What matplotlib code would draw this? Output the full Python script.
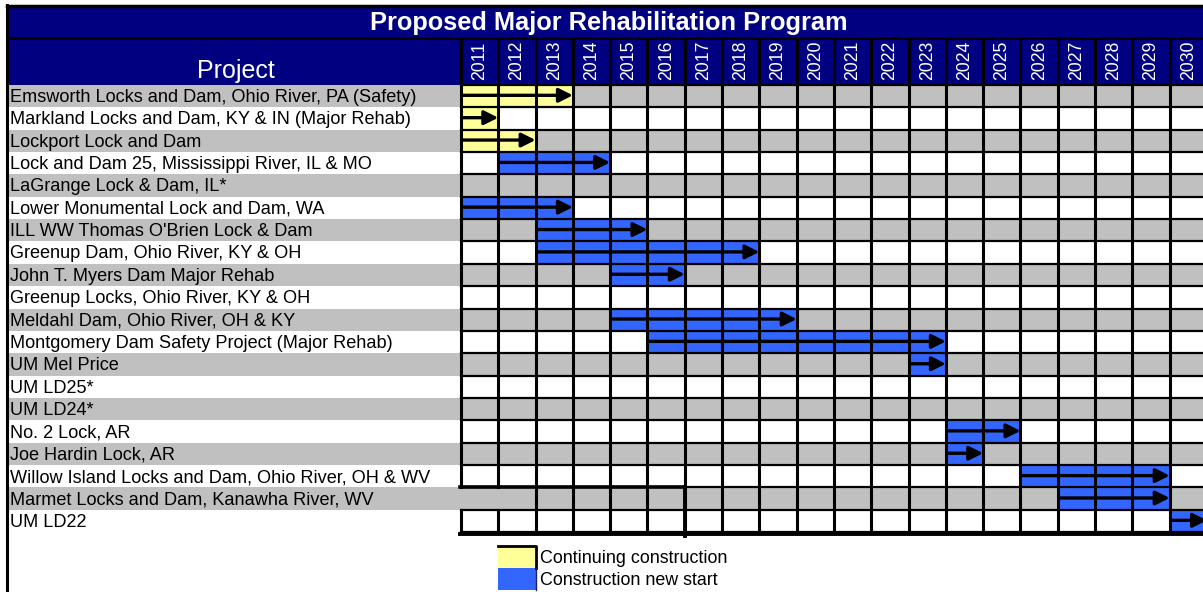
import matplotlib
matplotlib.use("Agg")
import matplotlib.pyplot as plt
from matplotlib.patches import Rectangle

plt.rcParams['font.family'] = ['Liberation Sans', 'DejaVu Sans']

# data
title = "Proposed Major Rehabilitation Program"
years = list(range(2011, 2031))
projects = [
    "Emsworth Locks and Dam, Ohio River, PA (Safety)",
    "Markland Locks and Dam, KY & IN (Major Rehab)",
    "Lockport Lock and Dam",
    "Lock and Dam 25, Mississippi River, IL & MO",
    "LaGrange Lock & Dam, IL*",
    "Lower Monumental Lock and Dam, WA",
    "ILL WW Thomas O'Brien Lock & Dam",
    "Greenup Dam, Ohio River, KY & OH",
    "John T. Myers Dam Major Rehab",
    "Greenup Locks, Ohio River, KY & OH",
    "Meldahl Dam, Ohio River, OH & KY",
    "Montgomery Dam Safety Project (Major Rehab)",
    "UM Mel Price",
    "UM LD25*",
    "UM LD24*",
    "No. 2 Lock, AR",
    "Joe Hardin Lock, AR",
    "Willow Island Locks and Dam, Ohio River, OH & WV",
    "Marmet Locks and Dam, Kanawha River, WV",
    "UM LD22",
]
start_year = [2011, 2011, 2011, 2012, None, 2011, 2013, 2013, 2015, None,
              2015, 2016, 2023, None, None, 2024, 2024, 2026, 2027, 2030]
end_year = [2013, 2011, 2012, 2014, None, 2013, 2015, 2018, 2016, None,
            2019, 2023, 2023, None, None, 2025, 2024, 2029, 2029, 2030]
phase = ['cont', 'cont', 'cont', 'new', None, 'new', 'new', 'new', 'new', None,
         'new', 'new', 'new', None, None, 'new', 'new', 'new', 'new', 'new']
legend_labels = {'cont': "Continuing construction", 'new': "Construction new start"}

# colours
navy = '#000080'
gray = '#C0C0C0'
colors = {'cont': '#FFFF99', 'new': '#3366FF'}

# layout in pixels
W, H = 1203, 592
grid_x0 = 461.0
col_w = 37.3
row_y0 = 84.8
row_h = 22.37


def px2x(px):
    return years[0] + (px - grid_x0) / col_w


def px2y(py):
    return (py - row_y0) / row_h


fig = plt.figure(figsize=(W / 100, H / 100), dpi=100)
ax = fig.add_axes([0, 0, 1, 1])
ax.set_xlim(px2x(0), px2x(W))
ax.set_ylim(px2y(H), px2y(0))
ax.axis('off')

x_left = px2x(7)
x_grid0 = years[0]
x_grid1 = years[-1] + 1
n = len(projects)

# title bar
ax.add_patch(Rectangle((x_left, px2y(6)), px2x(W + 5) - x_left, px2y(38) - px2y(6),
                       facecolor=navy, edgecolor='none', zorder=1))
ax.plot([x_left, px2x(W + 5)], [px2y(6), px2y(6)], color='black', lw=2.5, zorder=3)
ax.text(px2x(609), px2y(23), title, color='white', fontsize=18.3,
        fontweight='bold', ha='center', va='center', zorder=4)

# header row
ax.add_patch(Rectangle((x_left, px2y(38)), px2x(W + 5) - x_left, 0 - px2y(38),
                       facecolor=navy, edgecolor='none', zorder=1))
ax.plot([x_left, px2x(W + 5)], [px2y(38), px2y(38)], color='black', lw=2, zorder=3)
ax.text(px2x(236), px2y(71), "Project", color='white', fontsize=18,
        ha='center', va='center', zorder=4)
for yr in years:
    ax.text(yr + 0.5, px2y(80), str(yr), color='white', fontsize=12.7, rotation=90,
            ha='center', va='bottom', zorder=4)

# row shading
for i, name in enumerate(projects):
    if i % 2 == 0:
        ax.add_patch(Rectangle((x_left, i), x_grid1 - x_left, 1,
                               facecolor=gray, edgecolor='none', zorder=1))
    ax.text(px2x(10), i + 0.56, name, fontsize=13.1, ha='left', va='center', zorder=4)

# bars and arrows
for i in range(n):
    if phase[i] is None:
        continue
    s, e = start_year[i], end_year[i] + 1
    ax.add_patch(Rectangle((s, i), e - s, 1, facecolor=colors[phase[i]],
                           edgecolor='none', zorder=2))
    ax.annotate('', xy=(e, i + 0.47), xytext=(s + 0.03, i + 0.47),
                arrowprops=dict(arrowstyle='-|>', color='black', lw=2.4,
                                mutation_scale=21, shrinkA=0, shrinkB=0),
                annotation_clip=False, zorder=5)

# grid lines
marmet = projects.index("Marmet Locks and Dam, Kanawha River, WV")
for k in range(len(years) + 1):
    xv = years[0] + k
    ax.plot([xv, xv], [px2y(38), 0], color='black', lw=2.2, zorder=3)
    if k < 2:
        # first two column lines break in the Marmet row
        ax.plot([xv, xv], [0, marmet], color='black', lw=2.2, zorder=3)
        ax.plot([xv, xv], [marmet + 1, n], color='black', lw=2.2, zorder=3)
    else:
        ax.plot([xv, xv], [0, n], color='black', lw=2.2, zorder=3)
for r in range(n + 1):
    ax.plot([x_grid0, x_grid1], [r, r], color='black', lw=1.6, zorder=3)
ax.plot([x_grid0 - 0.03, x_grid1], [n + 0.1, n + 0.1], color='black', lw=2.8, zorder=3)
ax.plot([x_grid0 - 0.03, 2017], [marmet, marmet], color='black', lw=2.6, zorder=3)
ax.plot([2017, 2017], [marmet, n + 0.15], color='black', lw=2.8, zorder=3)

# left border
ax.plot([px2x(7.5), px2x(7.5)], [px2y(5), px2y(H)], color='black', lw=2.2, zorder=3)

# legend
ly0 = px2y(546)
lh = px2y(568) - px2y(546)
for j, key in enumerate(['cont', 'new']):
    ax.add_patch(Rectangle((2012, ly0 + j * lh), 1, lh, facecolor=colors[key],
                           edgecolor='none', zorder=2))
    ax.text(px2x(540), ly0 + (j + 0.55) * lh, legend_labels[key], fontsize=12.9,
            ha='left', va='center', zorder=4)
ax.plot([2012, 2013, 2013], [ly0, ly0, ly0 + lh], color='black', lw=2, zorder=3)
ax.plot([2013, 2013], [ly0 + lh, ly0 + 2 * lh], color='#202060', lw=1, zorder=3)

plt.savefig("out.png", dpi=100)
